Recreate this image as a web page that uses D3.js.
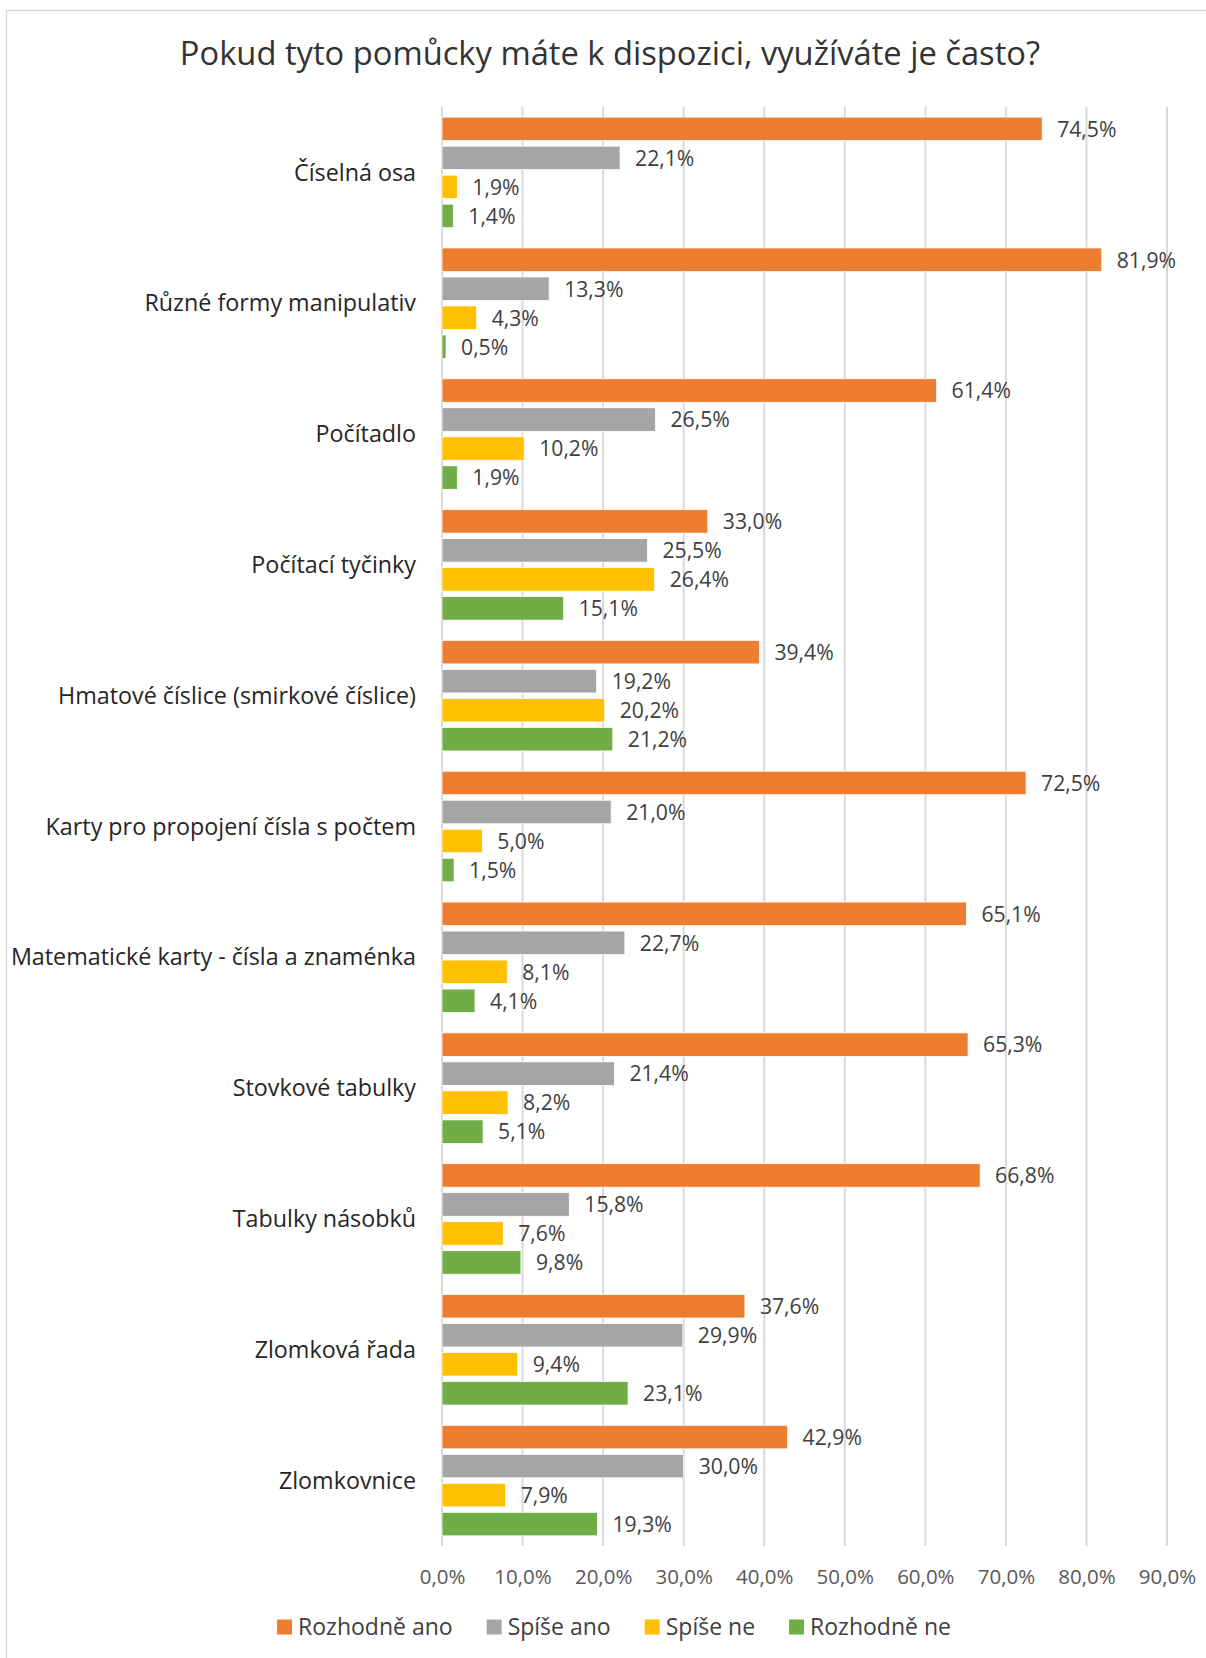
<!DOCTYPE html>
<html>
<head>
<meta charset="utf-8">
<script src="https://cdn.jsdelivr.net/npm/d3@7"></script>
<style>
  body { margin: 0; background: #fff; }
  svg text { font-family: "Open Sans", sans-serif; }
</style>
</head>
<body>
<div id="chart"></div>
<script>
// categories (top to bottom) and series values in percent
const categories = [
  "Číselná osa",
  "Různé formy manipulativ",
  "Počítadlo",
  "Počítací tyčinky",
  "Hmatové číslice (smirkové číslice)",
  "Karty pro propojení čísla s počtem",
  "Matematické karty - čísla a znaménka",
  "Stovkové tabulky",
  "Tabulky násobků",
  "Zlomková řada",
  "Zlomkovnice"
];
const seriesNames = ["Rozhodně ano", "Spíše ano", "Spíše ne", "Rozhodně ne"];
const rozhodneAno = [74.5, 81.9, 61.4, 33.0, 39.4, 72.5, 65.1, 65.3, 66.8, 37.6, 42.9];
const spiseAno    = [22.1, 13.3, 26.5, 25.5, 19.2, 21.0, 22.7, 21.4, 15.8, 29.9, 30.0];
const spiseNe     = [1.9, 4.3, 10.2, 26.4, 20.2, 5.0, 8.1, 8.2, 7.6, 9.4, 7.9];
const rozhodneNe  = [1.4, 0.5, 1.9, 15.1, 21.2, 1.5, 4.1, 5.1, 9.8, 23.1, 19.3];
const xTicks = [0, 10, 20, 30, 40, 50, 60, 70, 80, 90];
const colors = ["#ED7D31", "#A5A5A5", "#FFC000", "#70AD47"];

const title = "Pokud tyto pomůcky máte k dispozici, využíváte je často?";

const width = 1206, height = 1658;
const plot = { left: 442, right: 1167, top: 107, bottom: 1546 };

const svg = d3.select("#chart").append("svg")
  .attr("width", width)
  .attr("height", height);

// chart frame
svg.append("rect")
  .attr("x", 6.5).attr("y", 10.5)
  .attr("width", width).attr("height", height)
  .attr("fill", "#fff")
  .attr("stroke", "#d9d9d9")
  .attr("stroke-width", 1.5);

svg.append("text")
  .attr("x", 610).attr("y", 65)
  .attr("text-anchor", "middle")
  .attr("font-size", 32.7)
  .attr("fill", "#333")
  .text(title);

const x = d3.scaleLinear().domain([0, 90]).range([plot.left, plot.right]);
const y = d3.scaleBand().domain(categories).range([plot.top, plot.bottom]);
const yInner = d3.scaleBand().domain(seriesNames)
  .range([0, y.bandwidth()])
  .paddingInner(0.19)
  .paddingOuter(0.35);

// gridlines
svg.append("g")
  .selectAll("line")
  .data(xTicks)
  .join("line")
  .attr("x1", d => x(d)).attr("x2", d => x(d))
  .attr("y1", plot.top).attr("y2", plot.bottom)
  .attr("stroke", "#d9d9d9")
  .attr("stroke-width", 2);

// x axis labels
const fmt = v => d3.format(".1f")(v).replace(".", ",") + "%";
const xAxis = svg.append("g")
  .attr("transform", `translate(0,${plot.bottom})`)
  .call(d3.axisBottom(x).tickValues(xTicks).tickFormat(fmt).tickSize(0).tickPadding(0));
xAxis.select(".domain").remove();
xAxis.selectAll("text")
  .attr("y", 38)
  .attr("dy", 0)
  .attr("font-size", 20.5)
  .attr("font-family", "Open Sans, sans-serif")
  .attr("fill", "#595959");

// category labels
svg.append("g")
  .selectAll("text")
  .data(categories)
  .join("text")
  .attr("x", 416)
  .attr("y", d => y(d) + y.bandwidth() / 2)
  .attr("dy", "0.35em")
  .attr("text-anchor", "end")
  .attr("font-size", 23.3)
  .attr("fill", "#262626")
  .text(d => d);

// bars
const allSeries = [rozhodneAno, spiseAno, spiseNe, rozhodneNe];
const rows = [];
categories.forEach((c, i) => {
  seriesNames.forEach((s, j) => {
    rows.push({ cat: c, series: s, value: allSeries[j][i], color: colors[j] });
  });
});

const bars = svg.append("g");
bars.selectAll("rect")
  .data(rows)
  .join("rect")
  .attr("x", x(0))
  .attr("y", d => y(d.cat) + yInner(d.series))
  .attr("width", d => x(d.value) - x(0))
  .attr("height", yInner.bandwidth())
  .attr("fill", d => d.color)
  .attr("stroke", "#fff")
  .attr("stroke-width", 0.75);

bars.selectAll("text")
  .data(rows)
  .join("text")
  .attr("x", d => x(d.value) + 15)
  .attr("y", d => y(d.cat) + yInner(d.series) + yInner.bandwidth() / 2)
  .attr("dy", "0.37em")
  .attr("font-size", 21.2)
  .attr("fill", "#404040")
  .text(d => fmt(d.value));

// legend
const legend = svg.append("g");
let lx = 0;
seriesNames.forEach((s, i) => {
  const g = legend.append("g");
  g.append("rect")
    .attr("x", 0).attr("y", -7.5)
    .attr("width", 15).attr("height", 15)
    .attr("fill", colors[i]);
  const t = g.append("text")
    .attr("x", 21).attr("dy", "0.35em")
    .attr("font-size", 23)
    .attr("fill", "#404040")
    .text(s);
  g.attr("transform", `translate(${lx},0)`);
  lx += 21 + t.node().getComputedTextLength() + 34;
});
lx -= 34;
legend.attr("transform", `translate(${614 - lx / 2},1627)`);
</script>
</body>
</html>
